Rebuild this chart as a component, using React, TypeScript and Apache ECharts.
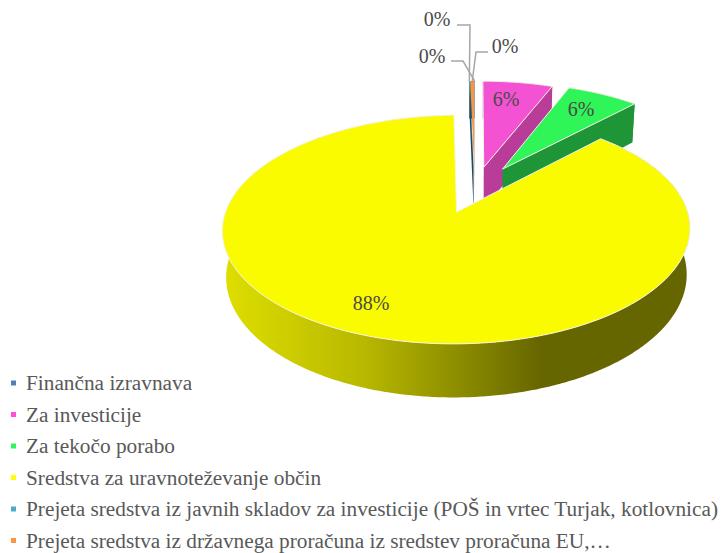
import React, { useEffect, useRef } from "react";
import * as echarts from "echarts";

const categories = [
  "Finančna izravnava",
  "Za investicije",
  "Za tekočo porabo",
  "Sredstva za uravnoteževanje občin",
  "Prejeta sredstva iz javnih skladov za investicije (POŠ in vrtec Turjak, kotlovnica)",
  "Prejeta sredstva iz državnega proračuna iz sredstev proračuna EU,…",
];
const values = [0.02, 5.9, 6.08, 87.6, 0.06, 0.34];
const topColors = ["#4F81BD", "#F352D2", "#2FF558", "#FBFB00", "#4BACC6", "#F79646"];
const sideColors = ["#2A4A70", "#B83C98", "#1E9637", "#666600", "#1F4A5C", "#1F4A5C"];
const legendColors = ["#4F81BD", "#FF4FD8", "#33F55A", "#FFFF00", "#4BACC6", "#F79646"];
const drawOrder = [4, 0, 5, 1, 2, 3];

// layout of the exploded slices, the percent labels and their leader elbows
const explode = [0.22, 0.225, 0.24, 0.22, 0.22, 0.22];
const labelPos: Record<number, [number, number]> = {
  0: [432, 56],
  1: [506, 99],
  2: [581, 109],
  3: [371, 303],
  4: [437, 19],
  5: [505, 46],
};
const leaderElbow: Record<number, [[number, number], [number, number]]> = {
  0: [[451, 61], [463, 61]],
  4: [[457, 25], [470, 25]],
  5: [[488, 52], [476, 52]],
};

// pseudo-3D projection parameters
const GX = 474.7, GY = 189.8, B = 224, A = 105, P = 0.148, DEPTH = 44, SHRINK = 0.985;
const total = values.reduce((a, b) => a + b, 0);

function project(X: number, Y: number, bottom: boolean): number[] {
  const D = 1 - P * Y;
  let x = GX + (B * X) / D;
  let y = GY + (A * Y) / D;
  if (bottom) {
    x = GX + (x - GX) * SHRINK;
    y += DEPTH / D;
  }
  return [x, y];
}

function sliceGeom(i: number) {
  const before = values.slice(0, i).reduce((a, b) => a + b, 0);
  const a0 = (before / total) * Math.PI * 2;
  const a1 = ((before + values[i]) / total) * Math.PI * 2;
  const mid = (a0 + a1) / 2;
  const cx = explode[i] * Math.sin(mid);
  const cy = -explode[i] * Math.cos(mid);
  const rim = (a: number, bottom: boolean) => project(cx + Math.sin(a), cy - Math.cos(a), bottom);
  const steps = Math.max(2, Math.ceil((a1 - a0) / 0.01));
  const angles: number[] = [];
  for (let k = 0; k <= steps; k++) angles.push(a0 + ((a1 - a0) * k) / steps);
  return { a0, a1, mid, cx, cy, rim, angles };
}

function renderSlice(i: number) {
  const g = sliceGeom(i);
  const big = values[i] > 1;
  const apexTop = project(g.cx, g.cy, false);
  const apexBot = project(g.cx, g.cy, true);
  const topArc = g.angles.map((a) => g.rim(a, false));
  const botArc = g.angles.map((a) => g.rim(a, true));
  const sideFill: any =
    i === 3
      ? {
          type: "linear",
          global: true,
          x: 225,
          y: 0,
          x2: 690,
          y2: 0,
          colorStops: [
            { offset: 0, color: "#DEDE00" },
            { offset: 0.3, color: "#B8B800" },
            { offset: 0.68, color: "#666600" },
            { offset: 1, color: "#666600" },
          ],
        }
      : sideColors[i];
  const children: any[] = [];
  children.push({
    type: "polygon",
    shape: { points: [...topArc, ...botArc.slice().reverse()] },
    style: { fill: sideFill },
  });
  if (g.a1 - g.a0 < Math.PI) {
    children.push({
      type: "polygon",
      shape: { points: [apexTop, g.rim(g.a1, false), g.rim(g.a1, true), apexBot] },
      style: { fill: sideColors[i] },
    });
  }
  children.push({
    type: "polygon",
    shape: { points: [apexTop, ...topArc] },
    style: big
      ? { fill: topColors[i], stroke: "#F4F4E8", lineWidth: 1 }
      : { fill: topColors[i] },
  });
  const pct = `${Math.round((values[i] / total) * 100)}%`;
  const elbow = leaderElbow[i];
  if (elbow) {
    const anchor = g.rim((g.a0 + g.a1) / 2, false);
    children.push({
      type: "polyline",
      shape: { points: [elbow[0], elbow[1], anchor] },
      style: { stroke: "#A6A6A6", lineWidth: 1.5, fill: "none" },
    });
  }
  children.push({
    type: "text",
    style: {
      text: pct,
      x: labelPos[i][0],
      y: labelPos[i][1],
      fill: "#4A4A4A",
      fontSize: 20,
      fontFamily: "Liberation Serif",
      align: "center",
      verticalAlign: "middle",
    },
  });
  return { type: "group", children };
}

export default function App() {
  const ref = useRef<HTMLDivElement>(null);
  useEffect(() => {
    document.body.style.margin = "0";
    const chart = echarts.init(ref.current!, undefined, { renderer: "svg" });
    chart.setOption({
      animation: false,
      backgroundColor: "#ffffff",
      legend: {
        show: true,
        orient: "vertical",
        left: 11,
        top: 372,
        height: 181,
        width: 713,
        padding: 0,
        icon: "rect",
        itemWidth: 5,
        itemHeight: 5,
        itemGap: 9.5,
        selectedMode: false,
        data: categories.map((name, i) => ({ name, itemStyle: { color: legendColors[i] } })),
        textStyle: {
          fontFamily: "Liberation Serif",
          fontSize: 21.3,
          lineHeight: 22,
          color: "#595959",
          padding: [0, 0, 0, 5],
        },
      },
      series: categories.map((name, i) => ({
        type: "custom",
        name,
        coordinateSystem: "none",
        silent: true,
        z: 2 + drawOrder.indexOf(i),
        itemStyle: { color: legendColors[i] },
        data: [values[i]],
        renderItem: () => renderSlice(i),
      })),
    });
    return () => chart.dispose();
  }, []);
  return <div ref={ref} style={{ position: "absolute", left: 0, top: 0, width: 724, height: 553 }} />;
}
